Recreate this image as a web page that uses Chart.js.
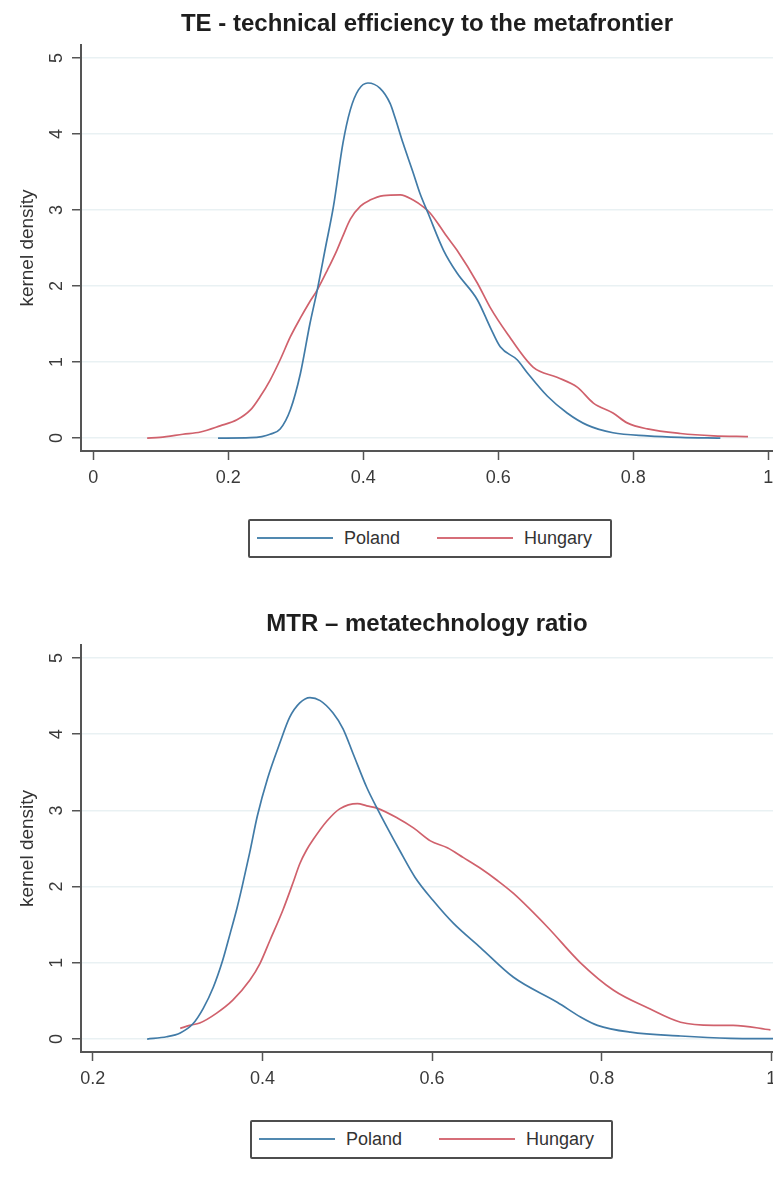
<!DOCTYPE html>
<html>
<head>
<meta charset="utf-8">
<script src="https://cdn.jsdelivr.net/npm/chart.js@4.4.0/dist/chart.umd.min.js"></script>
<style>
  html, body { margin: 0; padding: 0; background: #fff; }
  body { width: 773px; height: 1178px; position: relative; overflow: hidden;
         font-family: "Liberation Sans", Arial, sans-serif; }
  canvas { position: absolute; left: 0; }
  .legend { position: absolute; box-sizing: border-box; height: 39px;
            border: 2px solid #4d4d4d; border-radius: 2px; background: #fff; }
  .legend .swatch { position: absolute; top: 16px; width: 76px; height: 2px; }
  .legend .lab { position: absolute; top: 0; line-height: 35px; font-size: 18px; color: #333; }
</style>
</head>
<body>
<canvas id="te" width="773" height="500" style="top:0"></canvas>
<div class="legend" style="left:248px; top:519px; width:364px;">
  <div class="swatch" style="left:7px; background:#5189b0"></div><div class="lab" style="left:94px">Poland</div>
  <div class="swatch" style="left:187px; background:#d66e78"></div><div class="lab" style="left:274px">Hungary</div>
</div>
<canvas id="mtr" width="773" height="500" style="top:600px"></canvas>
<div class="legend" style="left:250px; top:1120px; width:363px;">
  <div class="swatch" style="left:7px; background:#5189b0"></div><div class="lab" style="left:94px">Poland</div>
  <div class="swatch" style="left:187px; background:#d66e78"></div><div class="lab" style="left:274px">Hungary</div>
</div>
<script>
// tick labels
const yTicks = [0, 1, 2, 3, 4, 5];
const teTicks = [0, 0.2, 0.4, 0.6, 0.8, 1];
const mtrTicks = [0.2, 0.4, 0.6, 0.8, 1];

// TE - kernel density, Poland
const tePolandX = [0.185, 0.233, 0.250, 0.262, 0.277, 0.292, 0.307, 0.321, 0.332, 0.344, 0.356, 0.370, 0.381, 0.393,
  0.407, 0.425, 0.440, 0.447, 0.459, 0.474, 0.484, 0.496, 0.519, 0.539, 0.569, 0.588, 0.603, 0.628, 0.643, 0.673,
  0.702, 0.732, 0.770, 0.821, 0.870, 0.929];
const tePolandY = [0, 0.005, 0.02, 0.05, 0.12, 0.37, 0.85, 1.5, 1.95, 2.5, 3.05, 3.88, 4.32, 4.58,
  4.67, 4.6, 4.4, 4.22, 3.88, 3.49, 3.22, 2.96, 2.47, 2.17, 1.82, 1.46, 1.2, 1.03, 0.86, 0.55,
  0.33, 0.17, 0.07, 0.03, 0.01, 0];

// TE - kernel density, Hungary
const teHungaryX = [0.080, 0.099, 0.133, 0.159, 0.188, 0.213, 0.233, 0.247, 0.262, 0.277, 0.292, 0.307, 0.320, 0.332,
  0.347, 0.361, 0.370, 0.381, 0.396, 0.410, 0.430, 0.455, 0.474, 0.489, 0.499, 0.514, 0.524, 0.539, 0.569, 0.588,
  0.613, 0.652, 0.687, 0.717, 0.741, 0.770, 0.791, 0.821, 0.870, 0.919, 0.970];
const teHungaryY = [0, 0.01, 0.05, 0.08, 0.16, 0.24, 0.37, 0.54, 0.76, 1.03, 1.33, 1.58, 1.78, 1.95,
  2.21, 2.47, 2.66, 2.88, 3.05, 3.13, 3.19, 3.2, 3.13, 3.04, 2.96, 2.78, 2.65, 2.47, 2.04, 1.72,
  1.38, 0.93, 0.8, 0.67, 0.46, 0.33, 0.2, 0.12, 0.06, 0.03, 0.02];

// MTR - kernel density, Poland
const mtrPolandX = [0.264, 0.287, 0.303, 0.318, 0.330, 0.342, 0.353, 0.362, 0.370, 0.376, 0.385, 0.394, 0.406, 0.421,
  0.432, 0.444, 0.456, 0.468, 0.483, 0.495, 0.507, 0.523, 0.535, 0.562, 0.580, 0.601, 0.625, 0.657, 0.696, 0.748,
  0.775, 0.795, 0.834, 0.893, 0.952, 1.002];
const mtrPolandY = [0, 0.03, 0.08, 0.2, 0.4, 0.68, 1.03, 1.39, 1.72, 2.0, 2.45, 2.93, 3.42, 3.9,
  4.22, 4.41, 4.48, 4.44, 4.28, 4.07, 3.74, 3.3, 3.03, 2.47, 2.12, 1.82, 1.52, 1.2, 0.81, 0.48,
  0.29, 0.18, 0.09, 0.04, 0.01, 0.005];

// MTR - kernel density, Hungary
const mtrHungaryX = [0.303, 0.314, 0.326, 0.346, 0.365, 0.385, 0.397, 0.409, 0.424, 0.436, 0.444, 0.452, 0.460, 0.476,
  0.491, 0.512, 0.523, 0.535, 0.559, 0.578, 0.598, 0.618, 0.637, 0.657, 0.677, 0.696, 0.736, 0.775, 0.814, 0.854,
  0.893, 0.932, 0.955, 0.999];
const mtrHungaryY = [0.14, 0.18, 0.21, 0.34, 0.51, 0.77, 0.99, 1.3, 1.69, 2.05, 2.3, 2.48, 2.62, 2.86,
  3.02, 3.09, 3.06, 3.03, 2.9, 2.77, 2.6, 2.51, 2.38, 2.24, 2.08, 1.91, 1.47, 1.0, 0.64, 0.41,
  0.22, 0.18, 0.18, 0.12];

const BLUE = '#417ba7';
const RED = '#d0616c';
const AXIS = '#555';
const GRID = '#e9f1f3';
const FONT = '"Liberation Sans", Arial, sans-serif';

Chart.defaults.font.family = FONT;

const pts = (xs, ys) => xs.map((x, i) => ({ x, y: ys[i] }));

function densityChart(id, title, xMin, xMax, xTicks, pol, hun, xAxisH) {
  const series = (label, data, color) => ({
    label, data, borderColor: color, borderWidth: 1.7,
    pointRadius: 0, cubicInterpolationMode: 'monotone', fill: false,
  });
  return new Chart(document.getElementById(id), {
    type: 'line',
    data: { datasets: [series('Poland', pol, BLUE), series('Hungary', hun, RED)] },
    options: {
      responsive: false,
      animation: false,
      layout: { padding: 0 },
      plugins: {
        legend: { display: false },
        tooltip: { enabled: false },
        title: {
          display: true, text: title, fullSize: false, color: '#1e1e1e',
          font: { size: 24, weight: 'bold' }, padding: { top: 9.6, bottom: 6.6 },
        },
      },
      scales: {
        x: {
          type: 'linear', min: xMin, max: xMax,
          afterBuildTicks: s => { s.ticks = xTicks.map(v => ({ value: v })); },
          afterFit: s => { s.height = xAxisH; s.paddingLeft = 0; s.paddingRight = 0; },
          grid: { drawOnChartArea: false, tickLength: 9, tickColor: AXIS, tickWidth: 1.5 },
          border: { color: AXIS, width: 2 },
          ticks: { autoSkip: false, maxRotation: 0, padding: 7, color: '#3a3a3a',
                   font: { size: 18 }, callback: v => String(v) },
        },
        y: {
          min: -0.17, max: 5.17,
          afterBuildTicks: s => { s.ticks = yTicks.map(v => ({ value: v })); },
          afterFit: s => { s.width = 81; s.paddingTop = 0; s.paddingBottom = 0; },
          grid: { color: GRID, lineWidth: 1.5, tickLength: 9, tickColor: AXIS, tickWidth: 1.5 },
          border: { color: AXIS, width: 2 },
          ticks: { minRotation: 90, maxRotation: 90, crossAlign: 'center', padding: 10,
                   color: '#3a3a3a', font: { size: 18 } },
          title: { display: true, text: 'kernel density', color: '#333',
                   font: { size: 19 }, padding: { top: 16 } },
        },
      },
    },
  });
}

densityChart('te', 'TE - technical efficiency to the metafrontier', -0.018, 1.007, teTicks,
  pts(tePolandX, tePolandY), pts(teHungaryX, teHungaryY), 49);
densityChart('mtr', 'MTR \u2013 metatechnology ratio', 0.186, 1.002, mtrTicks,
  pts(mtrPolandX, mtrPolandY), pts(mtrHungaryX, mtrHungaryY), 48);
</script>
</body>
</html>
